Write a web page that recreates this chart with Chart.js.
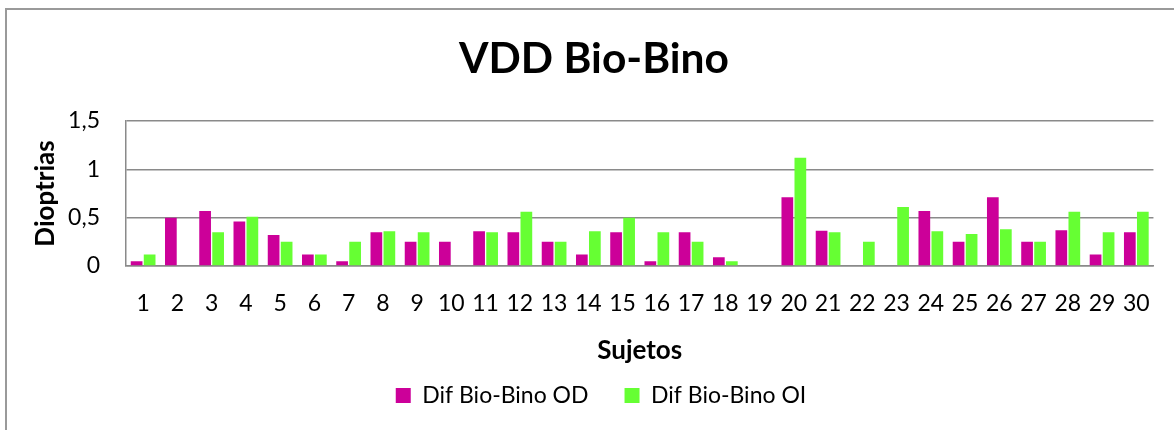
<!DOCTYPE html>
<html>
<head>
<meta charset="utf-8">
<script src="https://cdn.jsdelivr.net/npm/chart.js@4"></script>
<style>
  html, body { margin: 0; padding: 0; background: #fff; }
  #wrap { position: relative; width: 1174px; height: 430px; overflow: hidden; }
  #frame {
    position: absolute; left: 5px; top: 8px; width: 1200px; height: 450px;
    border-top: 2px solid #9a9a9a; border-left: 2px solid #9a9a9a;
    box-sizing: border-box;
  }
  #chart { position: absolute; left: 0; top: 0; }
</style>
</head>
<body>
<div id="wrap">
  <div id="frame"></div>
  <canvas id="chart" width="1174" height="430"></canvas>
</div>
<script>
// Subjects 1..30
const sujetos = ['1', '2', '3', '4', '5', '6', '7', '8', '9', '10',
                 '11', '12', '13', '14', '15', '16', '17', '18', '19', '20',
                 '21', '22', '23', '24', '25', '26', '27', '28', '29', '30'];

// Values (dioptrias)
const difOD = [0.05, 0.50, 0.57, 0.46, 0.32, 0.12, 0.05, 0.35, 0.25, 0.25,
               0.36, 0.35, 0.25, 0.12, 0.35, 0.05, 0.35, 0.09, 0, 0.71,
               0.365, 0, 0, 0.57, 0.25, 0.71, 0.25, 0.37, 0.12, 0.35];
const difOI = [0.12, 0, 0.35, 0.51, 0.25, 0.12, 0.25, 0.36, 0.35, 0,
               0.35, 0.56, 0.25, 0.36, 0.50, 0.35, 0.25, 0.05, 0, 1.12,
               0.35, 0.25, 0.61, 0.36, 0.33, 0.38, 0.25, 0.56, 0.35, 0.56];

const yTicks = [0, 0.5, 1, 1.5];

const FONT = 'Lato, "Open Sans", sans-serif';
const gridColor = '#8a8a8a';

// move the title and legend boxes to where the original has them
const boxShift = {
    id: 'boxShift',
    afterLayout(chart) {
        const tb = chart.titleBlock;
        if (tb) {
            tb.left += 17;
            tb.right += 17;
        }
        const lg = chart.legend;
        if (lg) {
            lg.left += 24;
            lg.right += 24;
            lg.top = 348;
            lg.bottom = 443;
            lg.height = 95;
        }
    }
};

new Chart(document.getElementById('chart').getContext('2d'), {
    type: 'bar',
    data: {
        labels: sujetos,
        datasets: [
            {
                label: 'Dif Bio-Bino OD',
                data: difOD,
                backgroundColor: '#cc0099',
                borderWidth: 0,
                categoryPercentage: 0.76,
                barPercentage: 0.9
            },
            {
                label: 'Dif Bio-Bino OI',
                data: difOI,
                backgroundColor: '#66ff33',
                borderWidth: 0,
                categoryPercentage: 0.76,
                barPercentage: 0.9
            }
        ]
    },
    plugins: [boxShift],
    options: {
        responsive: false,
        animation: false,
        layout: { padding: { top: 0, left: 0, right: 20, bottom: 0 } },
        plugins: {
            title: {
                display: true,
                text: 'VDD Bio-Bino',
                color: '#000',
                font: { family: FONT, size: 42.5, weight: 'bold', lineHeight: 1.2 },
                padding: { top: 33.5, bottom: 36.5 }
            },
            legend: {
                display: true,
                position: 'bottom',
                labels: {
                    color: '#000',
                    boxWidth: 15,
                    boxHeight: 15,
                    padding: 36,
                    font: { family: FONT, size: 23 }
                }
            },
            tooltip: { enabled: false }
        },
        scales: {
            x: {
                afterFit: function(scale) { scale.height = 95; },
                grid: { display: false, drawTicks: false },
                border: { display: true, color: gridColor, width: 1.5 },
                ticks: {
                    color: '#000',
                    padding: 24,
                    maxRotation: 0,
                    autoSkip: false,
                    font: { family: FONT, size: 23 }
                },
                title: {
                    display: true,
                    text: 'Sujetos',
                    color: '#000',
                    font: { family: FONT, size: 26, weight: 'bold', lineHeight: 1.2 },
                    padding: { top: 0, bottom: -5.6 }
                }
            },
            y: {
                min: 0,
                max: 1.5,
                afterFit: function(scale) { scale.width = 126; },
                afterBuildTicks: function(scale) {
                    scale.ticks = yTicks.map(v => ({ value: v }));
                },
                grid: { color: gridColor, lineWidth: 1.5, drawTicks: false },
                border: { display: true, color: gridColor, width: 1.5 },
                ticks: {
                    color: '#000',
                    padding: 26,
                    font: { family: FONT, size: 23 },
                    callback: function(value) {
                        return String(value).replace('.', ',');
                    }
                },
                title: {
                    display: true,
                    text: 'Dioptrias',
                    color: '#000',
                    font: { family: FONT, size: 26, weight: 'bold', lineHeight: 1.2 },
                    padding: { top: 30.4, bottom: 0 }
                }
            }
        }
    }
});
</script>
</body>
</html>
